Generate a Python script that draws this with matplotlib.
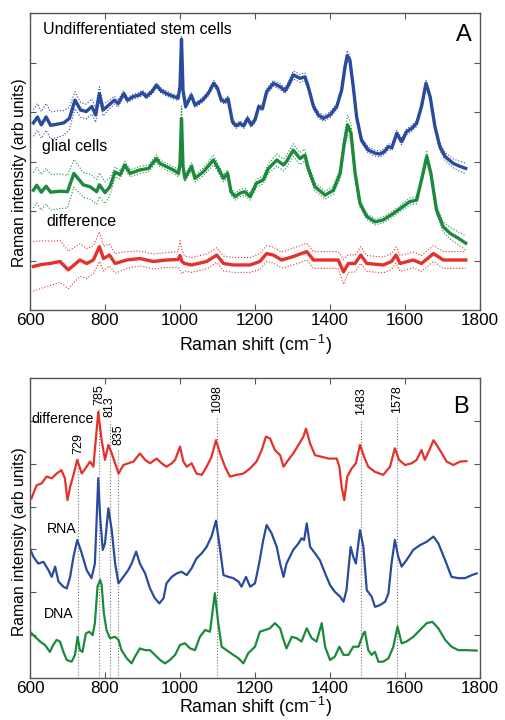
import numpy as np
import matplotlib.pyplot as plt

plt.rcParams['font.family'] = ['Liberation Sans', 'DejaVu Sans']
plt.rcParams['mathtext.default'] = 'regular'

# ---- panel A: mean spectra (shift, intensity, band half-width) ----
stem = [
    (609, 3.78, 0.27), (620, 3.90, 0.27), (630, 3.74, 0.27), (643, 3.90, 0.27),
    (655, 3.73, 0.27), (670, 3.75, 0.27), (690, 3.78, 0.25), (705, 3.87, 0.22),
    (720, 4.24, 0.17), (735, 4.04, 0.15), (750, 4.01, 0.15), (765, 4.11, 0.15),
    (775, 3.94, 0.15), (785, 4.37, 0.14), (795, 4.04, 0.12), (810, 4.14, 0.09),
    (825, 4.24, 0.08), (835, 4.17, 0.07), (850, 4.37, 0.06), (860, 4.24, 0.05),
    (875, 4.31, 0.05), (890, 4.34, 0.05), (900, 4.39, 0.05), (910, 4.31, 0.05),
    (925, 4.41, 0.05), (937, 4.54, 0.05), (950, 4.43, 0.05), (965, 4.37, 0.05),
    (980, 4.32, 0.05), (995, 4.28, 0.05), (1000, 4.51, 0.05), (1004, 5.47, 0.06),
    (1008, 4.44, 0.05), (1015, 4.11, 0.05), (1030, 4.34, 0.05), (1040, 4.14, 0.05),
    (1060, 4.24, 0.05), (1075, 4.37, 0.05), (1090, 4.58, 0.06), (1100, 4.48, 0.05),
    (1110, 4.24, 0.05), (1120, 4.21, 0.05), (1128, 4.27, 0.05), (1140, 3.80, 0.05),
    (1150, 3.72, 0.05), (1160, 3.77, 0.05), (1170, 3.72, 0.05), (1180, 3.87, 0.05),
    (1190, 3.74, 0.05), (1200, 3.84, 0.05), (1210, 4.11, 0.05), (1220, 4.07, 0.05),
    (1231, 4.41, 0.06), (1249, 4.58, 0.06), (1267, 4.51, 0.06), (1280, 4.43, 0.06),
    (1289, 4.54, 0.07), (1302, 4.75, 0.08), (1320, 4.68, 0.08), (1333, 4.71, 0.08),
    (1342, 4.51, 0.07), (1356, 4.11, 0.06), (1369, 3.94, 0.06), (1382, 3.87, 0.06),
    (1400, 3.94, 0.06), (1418, 4.11, 0.06), (1431, 4.44, 0.07), (1440, 4.91, 0.09),
    (1446, 5.14, 0.10), (1453, 5.05, 0.09), (1462, 4.51, 0.07), (1471, 3.90, 0.06),
    (1484, 3.43, 0.06), (1502, 3.23, 0.06), (1520, 3.17, 0.06), (1533, 3.15, 0.06),
    (1545, 3.20, 0.06), (1556, 3.30, 0.06), (1565, 3.28, 0.06), (1578, 3.57, 0.06),
    (1591, 3.40, 0.06), (1604, 3.60, 0.06), (1618, 3.67, 0.06), (1631, 3.77, 0.06),
    (1644, 4.11, 0.06), (1656, 4.58, 0.07), (1667, 4.31, 0.06), (1680, 3.70, 0.06),
    (1693, 3.30, 0.07), (1707, 3.10, 0.08), (1729, 2.96, 0.09), (1747, 2.90, 0.10),
    (1762, 2.86, 0.11),
]

glial = [
    (609, 2.42, 0.36), (618, 2.52, 0.36), (630, 2.38, 0.36), (643, 2.50, 0.36),
    (655, 2.38, 0.36), (680, 2.40, 0.35), (700, 2.39, 0.33), (717, 2.76, 0.28),
    (742, 2.53, 0.25), (760, 2.49, 0.25), (778, 2.39, 0.25), (785, 2.53, 0.24),
    (800, 2.37, 0.22), (813, 2.49, 0.18), (827, 2.79, 0.10), (840, 2.73, 0.08),
    (853, 2.93, 0.07), (867, 2.76, 0.07), (893, 2.83, 0.07), (916, 2.86, 0.07),
    (937, 3.06, 0.07), (947, 2.96, 0.07), (982, 2.83, 0.07), (996, 2.76, 0.07),
    (1000, 2.95, 0.08), (1004, 3.87, 0.25), (1008, 2.90, 0.08), (1013, 2.66, 0.07),
    (1031, 2.90, 0.08), (1040, 2.66, 0.07), (1062, 2.79, 0.08), (1089, 3.03, 0.10),
    (1102, 2.86, 0.08), (1116, 2.66, 0.07), (1127, 2.76, 0.07), (1136, 2.39, 0.07),
    (1147, 2.29, 0.07), (1160, 2.36, 0.07), (1173, 2.39, 0.07), (1187, 2.29, 0.07),
    (1204, 2.56, 0.08), (1222, 2.63, 0.08), (1236, 2.86, 0.10), (1258, 3.03, 0.12),
    (1276, 2.93, 0.12), (1284, 3.00, 0.12), (1302, 3.23, 0.13), (1320, 3.06, 0.12),
    (1333, 3.13, 0.12), (1342, 2.86, 0.10), (1360, 2.49, 0.08), (1387, 2.32, 0.08),
    (1409, 2.42, 0.08), (1427, 2.76, 0.10), (1438, 3.37, 0.15), (1447, 3.74, 0.20),
    (1456, 3.57, 0.18), (1467, 2.76, 0.10), (1480, 2.15, 0.07), (1498, 1.89, 0.06),
    (1520, 1.78, 0.06), (1542, 1.82, 0.06), (1569, 1.95, 0.06), (1582, 2.02, 0.06),
    (1600, 2.12, 0.07), (1613, 2.19, 0.07), (1631, 2.22, 0.07), (1644, 2.63, 0.08),
    (1658, 3.10, 0.10), (1669, 2.76, 0.08), (1684, 2.02, 0.08), (1702, 1.68, 0.10),
    (1720, 1.55, 0.12), (1742, 1.45, 0.13), (1762, 1.35, 0.14),
]

diff_a = [
    (609, 0.88, 0.50), (630, 0.92, 0.48), (653, 0.94, 0.45), (680, 0.98, 0.42),
    (702, 0.81, 0.38), (733, 1.01, 0.33), (751, 0.94, 0.30), (769, 1.01, 0.28),
    (785, 1.28, 0.30), (796, 1.04, 0.25), (812, 1.11, 0.22), (827, 0.94, 0.20),
    (858, 1.01, 0.17), (893, 1.04, 0.15), (929, 0.98, 0.15), (964, 1.01, 0.15),
    (995, 1.02, 0.16), (1000, 1.10, 0.30), (1005, 0.98, 0.25), (1012, 0.94, 0.15),
    (1031, 0.91, 0.15), (1071, 0.98, 0.15), (1098, 1.11, 0.15), (1116, 0.94, 0.15),
    (1142, 0.91, 0.15), (1187, 0.91, 0.15), (1213, 0.98, 0.16), (1231, 1.14, 0.16),
    (1249, 1.11, 0.16), (1271, 1.01, 0.16), (1302, 1.08, 0.17), (1338, 1.18, 0.17),
    (1356, 1.01, 0.17), (1391, 1.01, 0.17), (1422, 1.01, 0.17), (1436, 0.77, 0.25),
    (1449, 0.94, 0.18), (1467, 0.94, 0.17), (1482, 1.11, 0.17), (1498, 0.94, 0.16),
    (1542, 0.91, 0.16), (1564, 0.98, 0.16), (1576, 1.11, 0.16), (1587, 0.94, 0.16),
    (1622, 1.01, 0.16), (1644, 0.94, 0.16), (1676, 1.14, 0.16), (1702, 1.01, 0.17),
    (1762, 1.01, 0.17),
]

# ---- panel B: difference vs reference RNA / DNA spectra ----
diff_b = [
    (604, 4.19), (609, 4.31), (618, 4.50), (631, 4.54), (644, 4.70), (658, 4.66),
    (671, 4.77), (684, 4.85), (693, 4.66), (700, 4.15), (707, 4.46), (716, 4.74),
    (726, 5.09), (738, 4.77), (751, 4.93), (760, 5.05), (769, 4.93), (782, 6.21),
    (791, 5.55), (800, 5.09), (809, 5.44), (818, 5.24), (827, 5.01), (836, 4.77),
    (849, 4.97), (862, 5.01), (876, 5.05), (893, 5.24), (907, 5.09), (920, 5.01),
    (938, 5.12), (951, 5.01), (964, 4.93), (978, 5.01), (987, 5.09), (1000, 5.40),
    (1009, 5.05), (1018, 4.93), (1031, 5.01), (1044, 4.77), (1058, 4.74), (1071, 4.93),
    (1084, 5.16), (1096, 5.55), (1107, 5.24), (1120, 4.93), (1133, 4.70), (1151, 4.74),
    (1169, 4.77), (1187, 4.89), (1204, 5.05), (1218, 5.32), (1229, 5.63), (1240, 5.59),
    (1253, 5.32), (1267, 5.20), (1276, 4.93), (1289, 5.09), (1302, 5.24), (1316, 5.44),
    (1329, 5.63), (1336, 5.82), (1347, 5.47), (1360, 5.20), (1378, 5.16), (1396, 5.12),
    (1418, 5.12), (1425, 4.93), (1431, 4.46), (1438, 4.15), (1446, 4.70), (1458, 4.89),
    (1469, 5.01), (1480, 5.44), (1491, 5.16), (1502, 4.93), (1520, 4.81), (1542, 4.74),
    (1560, 4.93), (1573, 5.36), (1584, 5.09), (1600, 4.97), (1618, 5.01), (1631, 5.09),
    (1644, 5.32), (1653, 5.09), (1667, 5.36), (1676, 5.55), (1693, 5.32), (1711, 5.05),
    (1729, 4.97), (1747, 5.05), (1764, 5.06),
]

rna = [
    (600, 3.02), (609, 2.83), (622, 2.67), (636, 2.71), (649, 2.52), (658, 2.36),
    (667, 2.60), (676, 2.25), (689, 2.13), (698, 2.09), (707, 2.36), (716, 2.83),
    (726, 3.22), (738, 2.91), (751, 2.52), (764, 2.33), (773, 2.67), (778, 3.76),
    (782, 4.66), (787, 3.76), (794, 2.99), (800, 3.14), (809, 3.96), (818, 3.45),
    (827, 2.67), (836, 2.21), (849, 2.36), (862, 2.52), (871, 2.67), (883, 2.95),
    (893, 2.67), (907, 2.44), (920, 2.09), (933, 1.86), (945, 1.74), (956, 1.86),
    (964, 2.21), (978, 2.36), (991, 2.44), (1004, 2.48), (1018, 2.40), (1031, 2.56),
    (1044, 2.79), (1058, 2.91), (1071, 3.06), (1084, 3.30), (1096, 3.67), (1107, 2.99),
    (1116, 2.40), (1129, 2.36), (1142, 2.33), (1156, 2.25), (1164, 2.13), (1176, 2.36),
    (1187, 2.13), (1200, 2.21), (1211, 2.67), (1222, 3.22), (1231, 3.57), (1244, 3.38),
    (1258, 3.06), (1267, 2.67), (1276, 2.36), (1284, 2.67), (1302, 2.99), (1316, 3.14),
    (1324, 3.26), (1331, 3.22), (1338, 3.61), (1347, 3.06), (1360, 2.91), (1373, 2.75),
    (1387, 2.44), (1400, 2.17), (1413, 2.01), (1427, 1.90), (1436, 1.78), (1444, 2.05),
    (1455, 3.06), (1462, 2.83), (1469, 2.67), (1480, 3.45), (1489, 3.06), (1498, 2.05),
    (1511, 1.90), (1520, 1.66), (1533, 1.70), (1547, 1.78), (1556, 1.98), (1564, 2.67),
    (1573, 3.22), (1582, 2.83), (1591, 2.60), (1604, 2.75), (1622, 2.99), (1640, 3.10),
    (1658, 3.18), (1676, 3.30), (1689, 3.14), (1707, 2.75), (1724, 2.36), (1742, 2.33),
    (1760, 2.33), (1778, 2.40), (1791, 2.44),
]

dna = [
    (600, 1.08), (609, 1.00), (627, 0.85), (640, 0.77), (653, 0.61), (662, 0.77),
    (671, 0.89), (680, 0.85), (689, 0.61), (698, 0.42), (711, 0.38), (720, 0.54),
    (727, 0.96), (733, 0.65), (740, 0.61), (749, 1.04), (758, 1.08), (767, 1.00),
    (773, 1.28), (780, 2.13), (787, 2.29), (791, 2.17), (797, 1.51), (804, 1.12),
    (813, 0.93), (827, 0.96), (836, 0.89), (844, 0.65), (858, 0.46), (871, 0.34),
    (880, 0.50), (893, 0.69), (907, 0.65), (920, 0.65), (933, 0.54), (947, 0.42),
    (960, 0.34), (973, 0.42), (987, 0.54), (1000, 0.77), (1013, 0.81), (1027, 0.69),
    (1040, 0.65), (1053, 0.96), (1067, 1.12), (1080, 1.08), (1093, 1.98), (1102, 1.28),
    (1111, 0.73), (1124, 0.65), (1142, 0.54), (1156, 0.46), (1169, 0.34), (1182, 0.58),
    (1200, 0.73), (1213, 1.08), (1227, 1.12), (1240, 1.16), (1253, 1.28), (1267, 1.16),
    (1276, 0.89), (1284, 0.69), (1298, 0.96), (1311, 0.93), (1324, 0.85), (1338, 1.16),
    (1351, 0.93), (1364, 0.85), (1378, 1.28), (1387, 0.73), (1400, 0.42), (1413, 0.50),
    (1425, 0.73), (1436, 0.54), (1449, 0.54), (1462, 0.73), (1476, 0.73), (1489, 1.04),
    (1493, 1.08), (1502, 0.65), (1511, 0.54), (1520, 0.61), (1529, 0.38), (1542, 0.38),
    (1556, 0.46), (1569, 0.73), (1580, 1.20), (1591, 0.81), (1604, 0.85), (1622, 0.96),
    (1640, 1.12), (1658, 1.28), (1673, 1.31), (1689, 1.16), (1707, 0.89), (1724, 0.73),
    (1742, 0.65), (1764, 0.65), (1791, 0.64),
]

# marked bands in panel B: position and how high the guide line goes
peak_pos = [729, 785, 813, 835, 1098, 1483, 1578]
peak_top = [5.15, 6.30, 6.00, 5.35, 6.10, 6.05, 6.10]

xticks = [600, 800, 1000, 1200, 1400, 1600, 1800]

BLUE = '#2a4a9e'
GREEN = '#1c8a3c'
RED = '#e5312b'
SPINE = '#555555'


def style_axes(ax, ymax, label_y, xpad):
    ax.set_xlim(600, 1800)
    ax.set_ylim(0, ymax)
    ax.set_xticks(xticks)
    ax.set_yticks(range(1, ymax))
    ax.set_yticklabels([])
    ax.tick_params(direction='in', top=True, right=True, length=4, width=0.8,
                   color=SPINE, labelsize=12.3, pad=2.5)
    for s in ax.spines.values():
        s.set_color(SPINE)
        s.set_linewidth(1.0)
    ax.set_xlabel(r'Raman shift (cm$^{-\,1}$)', fontsize=12.8, labelpad=xpad)
    ax.set_ylabel('Raman intensity (arb units)', fontsize=11.3)
    ax.yaxis.set_label_coords(-0.007, label_y)


def band_plot(ax, data, color):
    x, y, sd = np.array(data).T
    ax.plot(x, y + sd, ls=':', lw=0.8, color=color)
    ax.plot(x, y - sd, ls=':', lw=0.8, color=color)
    ax.plot(x, y, lw=2.4, color=color, solid_joinstyle='round')


fig = plt.figure(figsize=(5.05, 7.2), dpi=100)
ax_a = fig.add_axes([30 / 505, 410 / 720, 450 / 505, 297 / 720])
ax_b = fig.add_axes([30 / 505, 42 / 720, 450 / 505, 300 / 720])

# panel A
band_plot(ax_a, stem, BLUE)
band_plot(ax_a, glial, GREEN)
band_plot(ax_a, diff_a, RED)
ax_a.text(634, 5.66, 'Undifferentiated stem cells', fontsize=11.5, va='center')
ax_a.text(632, 3.30, 'glial cells', fontsize=11.5, va='center')
ax_a.text(643, 1.78, 'difference', fontsize=11.5, va='center')
ax_a.text(1756, 5.55, 'A', fontsize=17, ha='center', va='center')
style_axes(ax_a, 6, 0.461, 3)

# panel B
for pos, top in zip(peak_pos, peak_top):
    ax_b.plot([pos, pos], [0, top], ls=':', lw=0.8, color='#777777')
    ax_b.text(pos, top + 0.08, str(pos), rotation=90, fontsize=9,
              ha='center', va='bottom')

for data, color in [(diff_b, RED), (rna, BLUE), (dna, GREEN)]:
    x, y = np.array(data).T
    ax_b.plot(x, y, lw=1.6, color=color)

ax_b.text(603, 6.04, 'difference', fontsize=10.2, va='center')
ax_b.text(644, 3.48, 'RNA', fontsize=10.2, va='center')
ax_b.text(638, 1.49, 'DNA', fontsize=10.2, va='center')
ax_b.text(1749, 6.32, 'B', fontsize=17, ha='center', va='center')
style_axes(ax_b, 7, 0.453, -1)

fig.savefig('out.png', dpi=100)
